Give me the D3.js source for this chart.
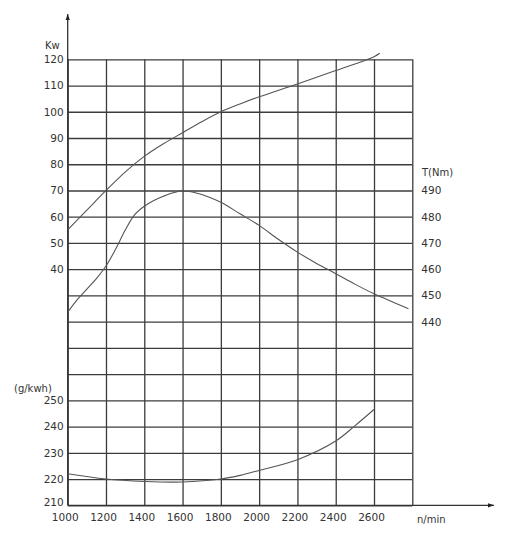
<!DOCTYPE html>
<html><head><meta charset="utf-8">
<script src="https://cdn.jsdelivr.net/npm/d3@7"></script>
<style>
html,body{margin:0;padding:0;background:#fff;}
text{font-family:"DejaVu Sans",sans-serif;fill:#333;}
</style></head>
<body>
<svg id="c" width="532" height="536"></svg>
<script>
// ---- data ----
const xTicks = [1000,1200,1400,1600,1800,2000,2200,2400,2600];
const xGrid = [1000,1200,1400,1600,1800,2000,2200,2400,2600,2800];
const kwTicks = [120,110,100,90,80,70,60,50,40];
const torqueTicks = [490,480,470,460,450,440];
const fuelTicks = [250,240,230,220,210];

const powerRpm = [1000,1100,1200,1300,1400,1500,1600,1700,1800,1900,2000,2200,2400,2600,2630];
const powerKw  = [55,62.5,70,77,83,87.8,92,96.2,100,103,105.7,110.6,115.7,121,122.3];

const torqueRpm = [1000,1050,1100,1150,1200,1250,1300,1350,1400,1450,1500,1550,1600,1700,1800,1900,2000,2100,2200,2300,2400,2500,2600,2700,2780];
const torqueNm  = [443.6,448.4,452.4,456.4,461.2,467.6,474.8,480.8,484.0,486.2,487.8,489.1,489.8,488.5,485.5,481.1,476.7,471.4,466.5,462.2,458.3,454.3,450.6,447.4,444.9];

const fuelRpm = [1000,1200,1400,1600,1800,1900,2000,2200,2400,2500,2600];
const fuelG   = [222,220,219.1,218.9,220,221.4,223.3,227.4,234.5,240.3,246.5];

// ---- layout ----
const svg = d3.select("#c");
const x0 = 67.7, x1 = 412.3, yTop = 59.3, yBot = 505.3, rows = 17;
const x = d3.scaleLinear().domain([1000,2800]).range([x0,x1]);
const row = d3.scaleLinear().domain([0,rows]).range([yTop,yBot]);
const yKw = d3.scaleLinear().domain([120,40]).range([row(0),row(8)]);
const yT  = d3.scaleLinear().domain([490,440]).range([row(5),row(10)]);
const yF  = d3.scaleLinear().domain([250,210]).range([row(13),row(17)]);

const gridColor = "#3c3c3c";

// horizontal grid
svg.append("g").attr("transform",`translate(${x0},0)`)
  .call(d3.axisLeft(row).tickValues(d3.range(rows+1)).tickSize(-(x1-x0)).tickFormat(""))
  .call(g=>g.select(".domain").remove())
  .call(g=>g.selectAll("line").attr("stroke",gridColor).attr("stroke-width",1.3));
// vertical grid
svg.append("g").attr("transform",`translate(0,${yBot})`)
  .call(d3.axisBottom(x).tickValues(xGrid).tickSize(-(yBot-yTop)).tickFormat(""))
  .call(g=>g.select(".domain").remove())
  .call(g=>g.selectAll("line").attr("stroke",gridColor).attr("stroke-width",1.3));

// axes lines with arrows
svg.append("defs").append("marker").attr("id","arr").attr("viewBox","0 0 10 10")
  .attr("refX",10).attr("refY",5).attr("markerWidth",10).attr("markerHeight",6)
  .attr("markerUnits","userSpaceOnUse").attr("orient","auto")
  .append("path").attr("d","M0,1.5L10,5L0,8.5Z").attr("fill","#222");
svg.append("line").attr("x1",x0).attr("y1",yBot).attr("x2",x0).attr("y2",14)
  .attr("stroke","#333").attr("stroke-width",1.3).attr("marker-end","url(#arr)");
svg.append("line").attr("x1",x0).attr("y1",yBot).attr("x2",494).attr("y2",yBot)
  .attr("stroke","#333").attr("stroke-width",1.3).attr("marker-end","url(#arr)");

// tick labels
const fs = 10.5;
function leftLabels(scale, ticks){
  svg.append("g").attr("transform",`translate(${x0-4},0)`)
    .call(d3.axisLeft(scale).tickValues(ticks).tickSize(0).tickPadding(0))
    .call(g=>g.select(".domain").remove())
    .call(g=>g.selectAll("text").style("font-size",fs+"px").attr("fill","#333"));
}
leftLabels(yKw, kwTicks);
leftLabels(yF, fuelTicks.slice(0,4));
svg.append("text").attr("x",x0-4).attr("y",yF(210)+1).attr("text-anchor","end")
  .style("font-size",fs+"px").text(fuelTicks[4]);

svg.append("g").attr("transform",`translate(${x1+9},0)`)
  .call(d3.axisRight(yT).tickValues(torqueTicks).tickSize(0).tickPadding(0))
  .call(g=>g.select(".domain").remove())
  .call(g=>g.selectAll("text").style("font-size",fs+"px").attr("fill","#333"));

svg.append("g").attr("transform",`translate(-3,${yBot+8})`)
  .call(d3.axisBottom(x).tickValues(xTicks).tickSize(0).tickPadding(0).tickFormat(d3.format("d")))
  .call(g=>g.select(".domain").remove())
  .call(g=>g.selectAll("text").style("font-size",fs+"px").attr("fill","#333"));

// unit labels
svg.append("text").attr("x",45).attr("y",49).style("font-size","10px").text("Kw");
svg.append("text").attr("x",14).attr("y",392).style("font-size","10px").text("(g/kwh)");
svg.append("text").attr("x",422).attr("y",176).style("font-size","10px").text("T(Nm)");
svg.append("text").attr("x",417).attr("y",523).style("font-size","10px").text("n/min");

// curves
const curveColor = "#555";
function curve(rpm, vals, ys){
  const line = d3.line().x(d=>x(d[0])).y(d=>ys(d[1])).curve(d3.curveCatmullRom.alpha(0.5));
  svg.append("path").datum(rpm.map((r,i)=>[r,vals[i]])).attr("d",line)
    .attr("fill","none").attr("stroke",curveColor).attr("stroke-width",1.1);
}
curve(powerRpm, powerKw, yKw);
curve(torqueRpm, torqueNm, yT);
curve(fuelRpm, fuelG, yF);
</script>
</body></html>
